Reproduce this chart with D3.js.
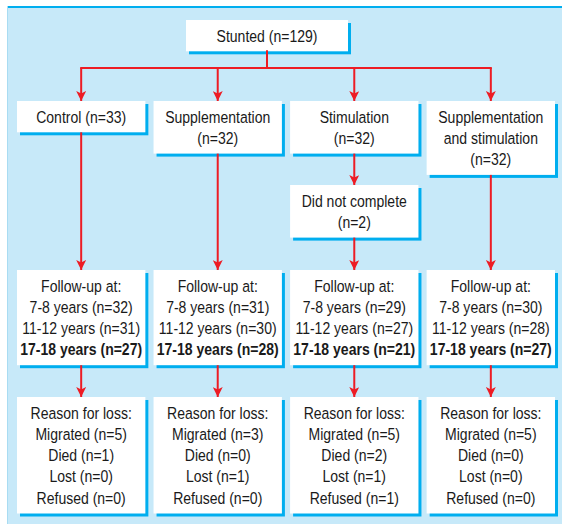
<!DOCTYPE html>
<html><head><meta charset="utf-8">
<script src="https://cdn.jsdelivr.net/npm/d3@7"></script>
<style>body{margin:0;background:#fff}</style>
</head><body><svg id="c" width="562" height="524"></svg>
<script>
// ---- data ----
const rootLabel = "Stunted";
const rootN = 129;
const groups = ["Control", "Supplementation", "Stimulation", "Supplementation and stimulation"];
const groupLabelLines = [["Control"], ["Supplementation"], ["Stimulation"], ["Supplementation", "and stimulation"]];
const groupN = [33, 32, 32, 32];
const didNotComplete = [null, null, 2, null];
const followup78 = [32, 31, 29, 30];
const followup1112 = [31, 30, 27, 28];
const followup1718 = [27, 28, 21, 27];
const migrated = [5, 3, 5, 5];
const died = [1, 0, 2, 0];
const lost = [0, 1, 1, 0];
const refused = [0, 0, 1, 0];

// ---- style ----
const FONT = "'Liberation Sans',Arial,sans-serif";
const FS = 16.5, SX = 0.85, LH = 21.3, PADV = 5;
const BG = "#c7e9f9", SHADOW = "#00aeef", RED = "#ed1c24", TXT = "#1a1a1a";

const svg = d3.select("#c");
const x = d3.scaleBand().domain(groups).range([17, 555]).paddingInner(0.06).paddingOuter(0);
const bw = x.bandwidth();
const cx = g => x(g) + bw / 2;

// panel
svg.append("rect").attr("x", 7).attr("y", 6).attr("width", 555).attr("height", 518).attr("fill", BG);
svg.append("line").attr("x1", 7).attr("x2", 562).attr("y1", 7).attr("y2", 7).attr("stroke", SHADOW).attr("stroke-width", 2);
svg.append("line").attr("x1", 7.5).attr("x2", 7.5).attr("y1", 6).attr("y2", 524).attr("stroke", "#a9dcf2").attr("stroke-width", 1);

// arrow marker
svg.append("defs").append("marker").attr("id", "ah")
  .attr("viewBox", "0 0 10 10").attr("refX", 10).attr("refY", 5)
  .attr("markerWidth", 15).attr("markerHeight", 10).attr("markerUnits", "userSpaceOnUse")
  .attr("orient", "auto")
  .append("path").attr("d", "M0,0 L10,5 L0,10 L2.5,5 Z").attr("fill", RED);

const boxH = n => 2 * PADV + LH * n;

function box(x0, y0, w, lines, boldIdx) {
  const h = boxH(lines.length);
  svg.append("rect").attr("x", x0 + 3).attr("y", y0 + 3).attr("width", w).attr("height", h).attr("fill", SHADOW);
  svg.append("rect").attr("x", x0).attr("y", y0).attr("width", w).attr("height", h).attr("fill", "#fff");
  const t = svg.append("text").attr("transform", `translate(${x0 + w / 2},0) scale(${SX},1)`)
    .attr("font-family", FONT).attr("font-size", FS).attr("fill", TXT).attr("text-anchor", "middle");
  lines.forEach((s, i) => {
    t.append("tspan").attr("x", 0).attr("y", y0 + PADV + LH * i + LH / 2).attr("dy", "0.36em")
      .attr("font-weight", i === boldIdx ? "bold" : "normal").text(s);
  });
  return { x: x0, y: y0, w, h, cx: x0 + w / 2, bottom: y0 + h };
}
function arrow(xp, y1, y2) {
  svg.append("line").attr("x1", xp).attr("x2", xp).attr("y1", y1).attr("y2", y2)
    .attr("stroke", RED).attr("stroke-width", 2).attr("marker-end", "url(#ah)");
}
function seg(x1, y1, x2, y2) {
  svg.append("line").attr("x1", x1).attr("x2", x2).attr("y1", y1).attr("y2", y2)
    .attr("stroke", RED).attr("stroke-width", 2).attr("stroke-linecap", "square");
}

// root
const root = box(186, 20, 162, [`${rootLabel} (n=${rootN})`]);
const busY = 68;
seg(root.cx, root.bottom, root.cx, busY);
seg(cx(groups[0]), busY, cx(groups[3]), busY);

const Y1 = 101, YDNC = 185, YF = 270, YR = 397;
groups.forEach((g, i) => {
  const lbl = groupLabelLines[i].slice();
  if (i === 0) lbl[0] = `${lbl[0]} (n=${groupN[i]})`;
  else lbl.push(`(n=${groupN[i]})`);
  arrow(cx(g), busY, Y1);
  const b = box(x(g), Y1, bw, lbl);
  let prevBottom = b.bottom;
  if (didNotComplete[i] != null) {
    arrow(cx(g), prevBottom, YDNC);
    const d = box(x(g), YDNC, bw, ["Did not complete", `(n=${didNotComplete[i]})`]);
    prevBottom = d.bottom;
  }
  arrow(cx(g), prevBottom, YF);
  const f = box(x(g), YF, bw, ["Follow-up at:", `7-8 years (n=${followup78[i]})`, `11-12 years (n=${followup1112[i]})`, `17-18 years (n=${followup1718[i]})`], 3);
  arrow(cx(g), f.bottom, YR);
  box(x(g), YR, bw, ["Reason for loss:", `Migrated (n=${migrated[i]})`, `Died (n=${died[i]})`, `Lost (n=${lost[i]})`, `Refused (n=${refused[i]})`]);
});
</script></body></html>
